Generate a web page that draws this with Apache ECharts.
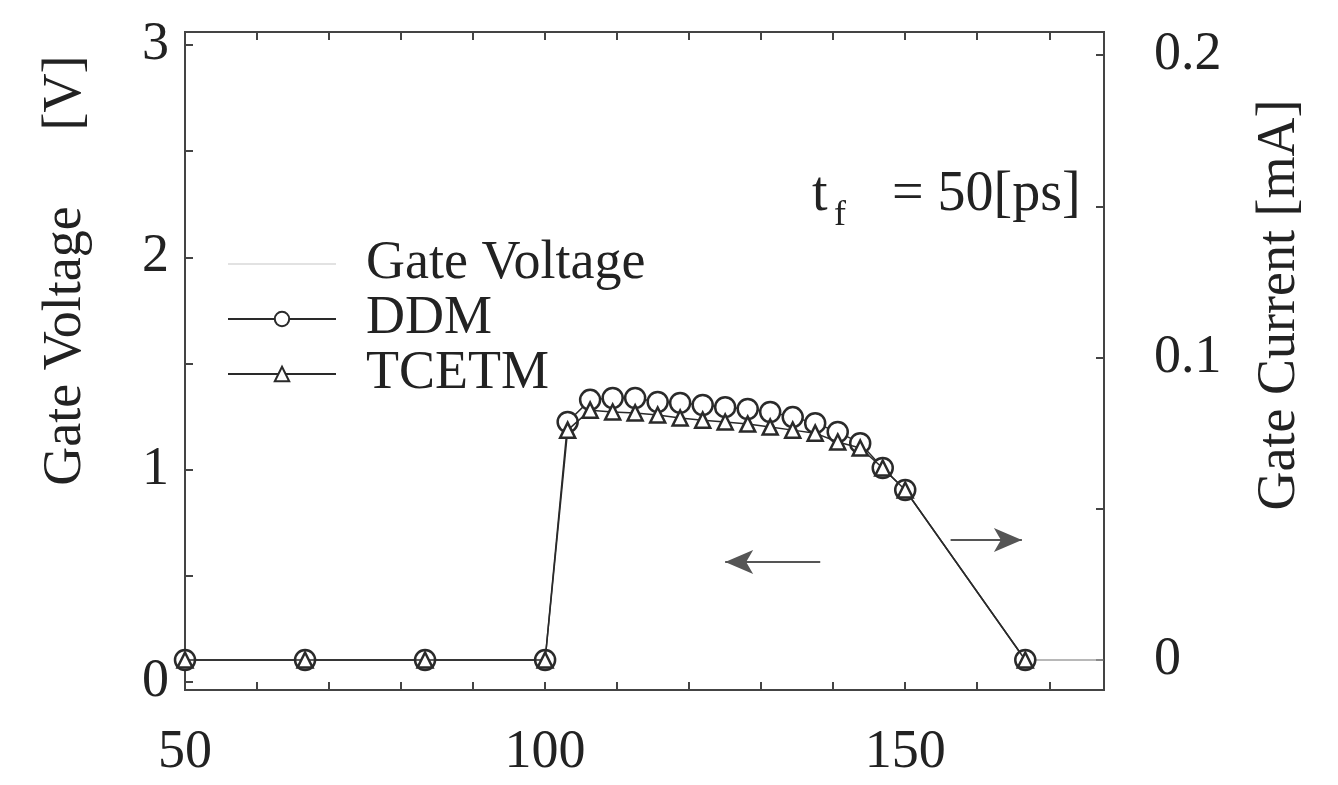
<!DOCTYPE html>
<html>
<head>
<meta charset="utf-8">
<script src="https://cdn.jsdelivr.net/npm/echarts@6/dist/echarts.min.js"></script>
<style>
  html, body { margin: 0; padding: 0; background: #fff; }
  #chart { width: 1338px; height: 785px; }
</style>
</head>
<body>
<div id="chart"></div>
<script>
// time [ps]
var time = [50, 66.67, 83.33, 100, 103.13, 106.25, 109.38, 112.5, 115.63, 118.75, 121.88, 125,
            128.13, 131.25, 134.38, 137.5, 140.63, 143.75, 146.88, 150, 166.67];
// gate current [mA]
var ddm = [0, 0, 0, 0, 0.0787, 0.0860, 0.0866, 0.0866, 0.0853, 0.0850, 0.0843, 0.0836,
           0.0830, 0.0820, 0.0803, 0.0783, 0.0754, 0.0717, 0.0635, 0.0562, 0];
var tcetm = [0, 0, 0, 0, 0.0760, 0.0826, 0.0820, 0.0817, 0.0810, 0.0800, 0.0793, 0.0787,
             0.0780, 0.0770, 0.0760, 0.0750, 0.0721, 0.0701, 0.0635, 0.0562, 0];
// faint gate voltage trace (only the tail is visible in the scan)
var gateTime = [166.67, 177.5];
var gateValue = [0, 0];

var xLabels = [50, 100, 150];
var leftLabels = [0, 1, 2, 3];
var rightLabels = [0, 0.1, 0.2];
// arrows [x0, x1, current]
var arrowLeft = [138.2, 125, 0.0324];
var arrowRight = [156.3, 166.2, 0.0397];

var font = 'Liberation Serif';
var ink = '#222';

function pairs(xs, ys) {
    return xs.map(function (x, i) { return [x, ys[i]]; });
}

var chart = echarts.init(document.getElementById('chart'));
var option = {
    backgroundColor: '#fff',
    animation: false,
    grid: {
        left: 185, right: 234, top: 32, bottom: 95,
        show: true, borderColor: '#444', borderWidth: 2
    },
    legend: {
        orient: 'vertical',
        left: 222,
        top: 232,
        itemWidth: 108,
        itemHeight: 18,
        itemGap: 1,
        textStyle: {
            fontFamily: font, fontSize: 54, color: ink, lineHeight: 50,
            padding: [0, 0, 0, 25]
        },
        data: [
            { name: 'Gate Voltage', itemStyle: { opacity: 0 }, lineStyle: { color: '#e2e2e2' } },
            'DDM',
            'TCETM'
        ]
    },
    xAxis: [{
        type: 'value',
        min: 50,
        max: 177.6,
        interval: 10,
        splitLine: { show: false },
        axisLine: { show: true, onZero: false, lineStyle: { color: '#444', width: 2 } },
        axisTick: { inside: true, length: 8, lineStyle: { color: '#444', width: 2 } },
        axisLabel: {
            margin: 36,
            fontFamily: font, fontSize: 54, color: ink,
            showMaxLabel: false,
            formatter: function (v) { return xLabels.indexOf(v) >= 0 ? String(v) : ''; }
        }
    }, {
        type: 'value',
        position: 'top',
        min: 50,
        max: 177.6,
        interval: 10,
        splitLine: { show: false },
        axisLine: { show: true, onZero: false, lineStyle: { color: '#444', width: 2 } },
        axisTick: { inside: true, length: 8, lineStyle: { color: '#444', width: 2 } },
        axisLabel: { show: false }
    }],
    yAxis: [{
        type: 'value',
        min: -0.038,
        max: 3.061,
        splitLine: { show: false },
        axisLine: { show: true, onZero: false, lineStyle: { color: '#444', width: 2 } },
        axisTick: {
            inside: true, length: 8, lineStyle: { color: '#444', width: 2 },
            customValues: [0, 0.5, 1, 1.5, 2, 2.5, 3]
        },
        axisLabel: {
            margin: 16,
            fontFamily: font, fontSize: 54, color: ink,
            customValues: leftLabels
        }
    }, {
        type: 'value',
        position: 'right',
        min: -0.0099,
        max: 0.2076,
        splitLine: { show: false },
        axisLine: { show: true, onZero: false, lineStyle: { color: '#444', width: 2 } },
        axisTick: {
            inside: true, length: 8, lineStyle: { color: '#444', width: 2 },
            customValues: [0, 0.05, 0.1, 0.15, 0.2]
        },
        axisLabel: {
            margin: 50,
            fontFamily: font, fontSize: 54, color: ink,
            customValues: rightLabels,
            formatter: function (v) { return v === 0 ? '0' : v.toFixed(1); }
        }
    }],
    series: [{
        name: 'Gate Voltage',
        type: 'line',
        yAxisIndex: 1,
        data: pairs(gateTime, gateValue),
        symbol: 'none',
        itemStyle: { color: '#bbb' },
        lineStyle: { color: '#a0a0a0', width: 1.5 },
        z: 1
    }, {
        name: 'DDM',
        type: 'line',
        yAxisIndex: 1,
        data: pairs(time, ddm),
        symbol: 'circle',
        symbolSize: 20,
        itemStyle: { color: '#fff', borderColor: '#2a2a2a', borderWidth: 2.5 },
        lineStyle: { color: '#2a2a2a', width: 1.5 },
        z: 2
    }, {
        name: 'TCETM',
        type: 'line',
        yAxisIndex: 1,
        data: pairs(time, tcetm),
        symbol: 'triangle',
        symbolSize: 15,
        itemStyle: { color: '#fff', borderColor: '#2a2a2a', borderWidth: 2.5 },
        lineStyle: { color: '#2a2a2a', width: 1.5 },
        z: 3,
        markLine: {
            silent: true,
            symbol: ['none', 'arrow'],
            symbolSize: [18, 28],
            label: { show: false },
            lineStyle: { color: '#555', width: 2, type: 'solid' },
            data: [
                [{ coord: [arrowLeft[0], arrowLeft[2]] }, { coord: [arrowLeft[1], arrowLeft[2]] }],
                [{ coord: [arrowRight[0], arrowRight[2]] }, { coord: [arrowRight[1], arrowRight[2]] }]
            ]
        }
    }],
    graphic: [{
        type: 'text', x: 66, y: 346, rotation: Math.PI / 2,
        style: { text: 'Gate Voltage', align: 'center', verticalAlign: 'middle',
                 font: '54px "Liberation Serif"', fill: ink }
    }, {
        type: 'text', x: 66, y: 93, rotation: Math.PI / 2,
        style: { text: '[V]', align: 'center', verticalAlign: 'middle',
                 font: '54px "Liberation Serif"', fill: ink }
    }, {
        type: 'text', x: 1280, y: 305, rotation: Math.PI / 2,
        style: { text: 'Gate Current [mA]', align: 'center', verticalAlign: 'middle',
                 font: '54px "Liberation Serif"', fill: ink }
    }, {
        type: 'text', x: 812, y: 195,
        style: { text: 't', align: 'left', verticalAlign: 'middle',
                 font: '56px "Liberation Serif"', fill: ink }
    }, {
        type: 'text', x: 834, y: 216,
        style: { text: 'f', align: 'left', verticalAlign: 'middle',
                 font: '36px "Liberation Serif"', fill: ink }
    }, {
        type: 'text', x: 892, y: 195,
        style: { text: '= 50[ps]', align: 'left', verticalAlign: 'middle',
                 font: '56px "Liberation Serif"', fill: ink }
    }]
};
chart.setOption(option);
window.addEventListener('resize', chart.resize);
</script>
</body>
</html>
